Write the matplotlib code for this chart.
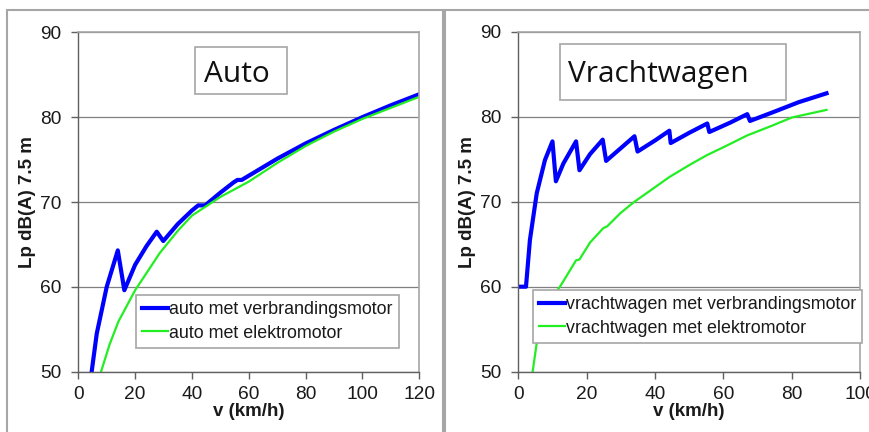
import matplotlib
matplotlib.use('Agg')
import matplotlib.pyplot as plt
from matplotlib.patches import Rectangle

plt.rcParams['font.family'] = ['Liberation Sans', 'DejaVu Sans']

W, H = 869, 432

# auto (car) data
auto_v_ice = [4.7, 6.5, 10.0, 13.9, 16.2, 20.0, 24.0, 27.6, 29.9, 35.0, 40.0, 42.2, 44.6, 50.0,
              54.6, 56.0, 57.5, 60.0, 70.0, 80.0, 90.0, 100.0, 110.0, 120.0]
auto_lp_ice = [50.0, 54.5, 60.0, 64.3, 59.6, 62.6, 64.8, 66.5, 65.4, 67.4, 69.0, 69.6, 69.6, 71.1,
               72.3, 72.6, 72.6, 73.1, 75.1, 76.9, 78.5, 80.0, 81.4, 82.7]
auto_v_ev = [8.0, 11.0, 14.1, 20.0, 28.7, 35.0, 40.0, 45.0, 50.0, 55.0, 60.0, 70.0, 80.0, 90.0,
             100.0, 110.0, 120.0]
auto_lp_ev = [50.0, 53.2, 55.9, 59.6, 64.0, 66.6, 68.4, 69.5, 70.6, 71.5, 72.4, 74.6, 76.6, 78.3,
              79.8, 81.1, 82.4]

# vrachtwagen (truck) data
truck_v_ice = [0.0, 2.25, 3.4, 5.4, 7.8, 10.0, 11.0, 13.2, 16.9, 17.9, 21.0, 24.7, 25.7, 30.0,
               34.0, 34.9, 40.0, 44.2, 44.6, 50.0, 55.3, 55.9, 62.0, 67.0, 67.8, 75.0, 82.0, 90.2]
truck_lp_ice = [60.0, 60.0, 65.5, 71.0, 74.9, 77.1, 72.4, 74.5, 77.1, 73.7, 75.6, 77.3, 74.8, 76.3,
                77.7, 75.9, 77.2, 78.35, 76.9, 78.1, 79.2, 78.2, 79.3, 80.3, 79.5, 80.6, 81.7, 82.75]
truck_v_ev = [4.2, 6.35, 9.0, 12.2, 16.9, 17.9, 21.0, 24.9, 26.0, 30.0, 34.0, 40.0, 44.2, 50.0,
              55.3, 60.0, 67.0, 74.0, 80.0, 90.2]
truck_lp_ev = [50.0, 56.1, 58.3, 60.0, 63.1, 63.2, 65.2, 66.9, 67.1, 68.7, 70.0, 71.7, 72.9, 74.3,
               75.5, 76.4, 77.8, 78.9, 79.9, 80.8]

BLUE = '#0000ff'
GREEN = '#22ee22'
GRAY = '#a6a6a6'
TEXT = '#1a1a1a'


def px_rect(x0, y0, x1, y1):
    """figure-fraction rectangle from pixel coords measured from the top-left"""
    return x0 / W, 1 - y1 / H, (x1 - x0) / W, (y1 - y0) / H


def style_axis(ax, xmax, xstep, labels, legend_anchor):
    ax.set_xlim(0, xmax)
    ax.set_ylim(50, 90)
    ax.set_xticks(range(0, xmax + 1, xstep))
    ax.set_yticks(range(50, 91, 10))
    ax.yaxis.grid(True, color='#808080', linewidth=0.9)
    ax.set_axisbelow(True)
    for side in ['top', 'right']:
        ax.spines[side].set_color(GRAY)
        ax.spines[side].set_linewidth(1.2)
    for side in ['left', 'bottom']:
        ax.spines[side].set_color('#606060')
        ax.spines[side].set_linewidth(1.0)
    ax.tick_params(direction='out', length=5, width=1.0, color='#606060',
                   labelsize=13.8, labelcolor=TEXT)
    ax.tick_params(axis='y', pad=7)
    ax.tick_params(axis='x', pad=5)
    ax.set_xlabel('v (km/h)', fontsize=13.5, fontweight='bold', labelpad=0, color=TEXT)
    ax.set_ylabel('Lp dB(A) 7.5 m', fontsize=13.5, fontweight='bold', labelpad=3, color=TEXT)

    leg = ax.legend(labels, loc='upper left', bbox_to_anchor=legend_anchor, fontsize=12.9,
                    frameon=True, fancybox=False, handlelength=1.45, handletextpad=0.05,
                    borderpad=0.35, labelspacing=0.35, borderaxespad=0, framealpha=1)
    leg.get_frame().set_edgecolor(GRAY)
    leg.get_frame().set_linewidth(1.2)
    for t in leg.get_texts():
        t.set_color(TEXT)


def title_box(fig, text, box, text_x, baseline):
    fig.patches.append(Rectangle(px_rect(*box)[:2], *px_rect(*box)[2:],
                                 transform=fig.transFigure, facecolor='white',
                                 edgecolor=GRAY, linewidth=1.2, zorder=5))
    fig.text(text_x / W, 1 - baseline / H, text, fontsize=21.5,
             family=['Open Sans', 'DejaVu Sans'], color='#111111',
             ha='left', va='baseline', zorder=6)


fig = plt.figure(figsize=(W / 100, H / 100), dpi=100)

# panel frames
fig.patches.append(Rectangle((7 / W, -0.1), (443 - 7) / W, 1.1 - 10.5 / H,
                             transform=fig.transFigure, fill=False, edgecolor=GRAY, linewidth=1.5))
fig.patches.append(Rectangle((445.5 / W, -0.1), 0.6, 1.1 - 10.5 / H,
                             transform=fig.transFigure, fill=False, edgecolor=GRAY, linewidth=1.5))

ax1 = fig.add_axes(px_rect(78.3, 32.3, 419.3, 371.7))
ax1.plot(auto_v_ice, auto_lp_ice, color=BLUE, linewidth=3.0)
ax1.plot(auto_v_ev, auto_lp_ev, color=GREEN, linewidth=1.6)
style_axis(ax1, 120, 20, ['auto met verbrandingsmotor', 'auto met elektromotor'], (0.169, 0.226))

ax2 = fig.add_axes(px_rect(518.3, 31.7, 860.0, 371.7))
ax2.plot(truck_v_ice, truck_lp_ice, color=BLUE, linewidth=3.0)
ax2.plot(truck_v_ev, truck_lp_ev, color=GREEN, linewidth=1.6)
style_axis(ax2, 100, 20, ['vrachtwagen met verbrandingsmotor', 'vrachtwagen met elektromotor'],
           (0.042, 0.240))

title_box(fig, 'Auto', (195, 47, 287, 94), 204, 82)
title_box(fig, 'Vrachtwagen', (560, 44, 786, 100), 568, 82)

fig.savefig('out.png', dpi=100)
